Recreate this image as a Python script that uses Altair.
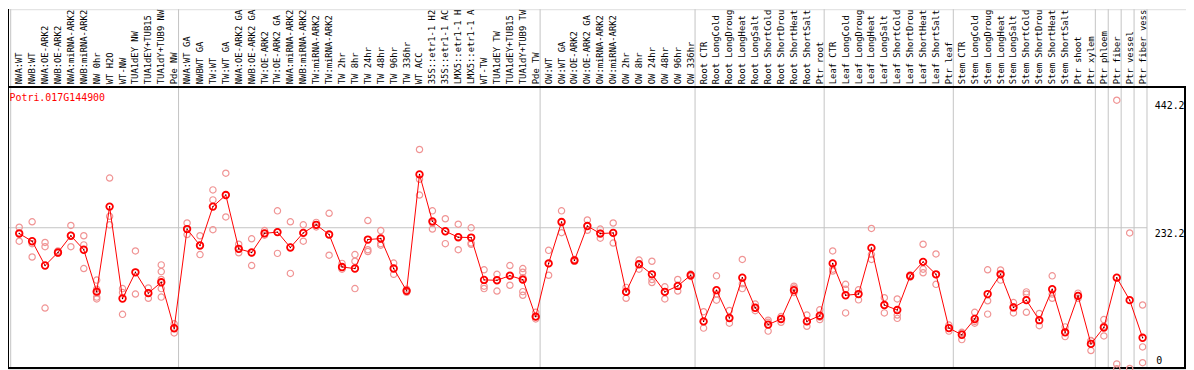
import altair as alt
import pandas as pd

# ---------------- data ----------------
labels = [
    "NWA:WT", "NWB:WT", "NWA:OE-ARK2", "NWB:OE-ARK2", "NWA:miRNA-ARK2", "NWB:miRNA-ARK2",
    "NW 0hr", "WT H2O", "WT-NW", "TUA1dEY NW", "TUA1dEY+TUB15", "TUA1dY+TUB9 NW", "Pde NW",
    "NWA:WT GA", "NWBWT GA", "TW:WT", "TW:WT GA", "NWA:OE-ARK2 GA", "NWB:OE-ARK2 GA",
    "TW:OE-ARK2", "TW:OE-ARK2 GA", "NWA:miRNA-ARK2", "NWB:miRNA-ARK2", "TW:miRNA-ARK2",
    "TW:miRNA-ARK2", "TW 2hr", "TW 8hr", "TW 24hr", "TW 48hr", "TW 96hr", "TW 336hr",
    "WT ACC", "35S::etr1-1 H2", "35S::etr1-1 AC", "LMX5::etr1-1 H", "LMX5::etr1-1 A",
    "WT-TW", "TUA1dEY TW", "TUA1dEY+TUB15", "TUA1dY+TUB9 TW", "Pde TW",
    "OW:WT", "OW:WT GA", "OW:OE-ARK2", "OW:OE-ARK2 GA", "OW:miRNA-ARK2", "OW:miRNA-ARK2",
    "OW 2hr", "OW 8hr", "OW 24hr", "OW 48hr", "OW 96hr", "OW 336hr",
    "Root CTR", "Root LongCold", "Root LongDroug", "Root LongHeat", "Root LongSalt",
    "Root ShortCold", "Root ShortDrou", "Root ShortHeat", "Root ShortSalt", "Ptr root",
    "Leaf CTR", "Leaf LongCold", "Leaf LongDroug", "Leaf LongHeat", "Leaf LongSalt",
    "Leaf ShortCold", "Leaf ShortDrou", "Leaf ShortHeat", "Leaf ShortSalt", "Ptr leaf",
    "Stem CTR", "Stem LongCold", "Stem LongDroug", "Stem LongHeat", "Stem LongSalt",
    "Stem ShortCold", "Stem ShortDrou", "Stem ShortHeat", "Stem ShortSalt", "Ptr shoot",
    "Ptr xylem", "Ptr phloem", "Ptr fiber", "Ptr vessel", "Ptr fiber vess",
]

group_sizes = [13, 28, 12, 10, 10, 11, 1, 1, 1, 1]

means = [
    222.6, 210, 170, 191.5, 219, 196, 127, 267, 115.7, 158.8, 124.5, 142.4, 66.7,
    230, 203, 267, 286, 197.5, 191.5, 223, 225, 199.7, 223.7, 237, 221, 167.5, 165,
    212.7, 214.4, 165, 128.3, 320, 242.7, 226.4, 216.6, 216, 146.3, 145.7, 153.3,
    146.8, 85.8,
    173.5, 241.6, 178.4, 235, 222.6, 223.7, 126.6, 172, 155.5, 126.6, 136.4, 154,
    78, 129.4, 83.6, 150, 100.5, 72.7, 82, 129.4, 78, 87.4,
    173.5, 121, 123, 199, 105, 96.7, 152.8, 176, 155.5, 67,
    56, 82, 123, 155.5, 101, 113, 80, 131, 60, 120, 41,
    68, 150, 113, 51,
]

replicates = [
    [233, 210, 224], [242, 206, 184], [208, 201, 100], [194, 191, 190],
    [236, 201, 220], [219, 204, 165], [146, 131, 125, 118, 115], [314, 251, 237],
    [132, 125.5, 89.6], [194, 159, 123], [133, 125, 116], [171, 160, 147, 132, 118],
    [74, 67, 59],
    [240, 221, 230], [219, 188, 203], [294.5, 278, 229], [322, 286, 250],
    [205, 191, 197], [214, 170, 191], [227.5, 220, 223], [260, 225, 190],
    [242, 157, 200], [237, 210, 224], [241, 233.5, 237], [256, 221, 187],
    [173.5, 164, 167], [188, 177, 132], [244, 196, 193], [227.5, 206, 203.5],
    [174, 155.5, 165], [131, 128, 126], [361, 312, 286], [260, 230, 240],
    [247, 206, 226], [238, 217, 196], [232, 207, 205], [163, 136, 132],
    [155.5, 146, 128], [170, 153, 137.5], [165, 159, 150, 127, 121], [93, 82, 86],
    [195, 154, 173], [260, 242, 224], [180, 178, 177], [245, 228, 235],
    [230, 215, 223], [240, 207, 224], [134, 116, 127], [179, 164, 173],
    [177, 147, 142], [135, 127, 115], [147, 136, 128], [156, 154, 152],
    [94, 78, 67], [153, 123, 113], [96, 84, 75], [180, 140, 132], [106.5, 100, 95.6],
    [80, 76.5, 62], [86, 82, 76.5], [136, 133, 125.5], [88.5, 78, 70], [97, 85, 81],
    [194, 164, 161], [139, 131, 92], [130, 123, 113.5], [231, 188, 180],
    [117, 105, 92], [115, 88.5, 83], [154.4, 153, 151], [205, 164, 158],
    [189, 155, 139], [72, 67, 62],
    [60, 59, 48], [93, 78, 75], [163, 112, 90], [162.6, 157, 146], [109, 102, 92],
    [126.6, 123, 93], [91, 80, 71], [153, 123, 116], [69, 60, 53], [124.5, 120, 116],
    [46.5, 46, 30],
    [81, 70, 54], [442.2, 8, 0], [223.6, 0.5], [105, 36, 10],
]

gene = "Potri.017G144900"
y_ticks = [0, 232.2, 442.2]

# ---------------- tables ----------------
mean_df = pd.DataFrame({"idx": range(len(labels)), "label": labels, "value": means})
rep_df = pd.DataFrame(
    [{"idx": i, "value": v} for i, reps in enumerate(replicates) for v in reps]
)
cum = [0]
for s in group_sizes:
    cum.append(cum[-1] + s)
bound_df = pd.DataFrame({"b": [c - 0.66 for c in cum]})

W, H = 1186, 362
PX = 13.0
x_lo = -11.3 / PX
x_hi = (W - 11.3) / PX
y_hi = 591.95

xs = alt.Scale(domain=[x_lo, x_hi], nice=False, zero=False)
ys = alt.Scale(domain=[0, y_hi], nice=False, zero=False)
MONO = "DejaVu Sans Mono"

base_m = alt.Chart(mean_df)

vgrid = alt.Chart(bound_df).mark_rule(color="#c4c4c4", strokeWidth=1).encode(
    x=alt.X("b:Q", scale=xs, axis=None), y=alt.value(0), y2=alt.value(H)
)

hgrid_df = pd.DataFrame({"v": [y_ticks[1]], "x0": [x_lo], "x1": [cum[-1] - 0.66]})
hgrid = alt.Chart(hgrid_df).mark_rule(color="#c4c4c4", strokeWidth=1).encode(
    x=alt.X("x0:Q", scale=xs, axis=None), x2="x1:Q",
    y=alt.Y("v:Q", scale=ys, axis=None),
)

frame_top = alt.Chart(mean_df).mark_rule(color="black", strokeWidth=1).encode(
    x=alt.value(0), x2=alt.value(W), y=alt.value(78)
)
frame_bottom = alt.Chart(mean_df).mark_rule(color="black", strokeWidth=1.5).encode(
    x=alt.value(0), x2=alt.value(W), y=alt.value(H - 0.5)
)
frame_left = alt.Chart(mean_df).mark_rule(color="black", strokeWidth=1).encode(
    x=alt.value(0.5), y=alt.value(0), y2=alt.value(H)
)
frame_right = alt.Chart(mean_df).mark_rule(color="black", strokeWidth=1.5).encode(
    x=alt.value(W - 0.75), y=alt.value(78), y2=alt.value(H)
)

reps_layer = alt.Chart(rep_df).mark_point(
    shape="circle", filled=False, color="#f09494", strokeWidth=1.2, size=40, opacity=1
).encode(
    x=alt.X("idx:Q", scale=xs, axis=None),
    y=alt.Y("value:Q", scale=ys, axis=None),
)

line = base_m.mark_line(color="#ff0000", strokeWidth=1).encode(
    x=alt.X("idx:Q", scale=xs, axis=None),
    y=alt.Y("value:Q", scale=ys, axis=None),
)

mean_pts = base_m.mark_point(
    shape="circle", filled=False, color="#ff0000", strokeWidth=1.8, size=44, opacity=1
).encode(
    x=alt.X("idx:Q", scale=xs, axis=None),
    y=alt.Y("value:Q", scale=ys, axis=None),
)

mean_dots = base_m.mark_point(
    shape="circle", filled=True, color="#300000", size=2, opacity=1
).encode(
    x=alt.X("idx:Q", scale=xs, axis=None),
    y=alt.Y("value:Q", scale=ys, axis=None),
)

cat_text = base_m.mark_text(
    angle=270, align="left", baseline="middle", font=MONO, fontSize=8.9, color="black"
).encode(
    x=alt.X("idx:Q", scale=xs, axis=None),
    y=alt.value(75.5),
    text="label:N",
)

title_df = pd.DataFrame({"t": [gene]})
title_text = alt.Chart(title_df).mark_text(
    align="left", baseline="middle", font=MONO, fontSize=10, color="#ff0000"
).encode(x=alt.value(1.5), y=alt.value(89), text="t:N")

tick_df = pd.DataFrame({"v": y_ticks[1:], "t": [str(v) for v in y_ticks[1:]]})
tick_text = alt.Chart(tick_df).mark_text(
    align="left", baseline="middle", font=MONO, fontSize=10, color="black", dy=6
).encode(
    x=alt.value(1154.5),
    y=alt.Y("v:Q", scale=ys, axis=None),
    text="t:N",
)
zero_df = pd.DataFrame({"v": [y_ticks[0]], "t": [str(y_ticks[0])]})
zero_text = alt.Chart(zero_df).mark_text(
    align="left", baseline="middle", font=MONO, fontSize=10, color="black", dy=-8
).encode(
    x=alt.value(1156),
    y=alt.Y("v:Q", scale=ys, axis=None),
    text="t:N",
)

chart = alt.layer(
    vgrid, hgrid, frame_top, frame_bottom, frame_left, frame_right,
    reps_layer, line, mean_pts, mean_dots, cat_text, title_text, tick_text, zero_text,
).properties(
    width=W, height=H,
    autosize=alt.AutoSizeParams(type="none"),
    padding=0,
).configure_view(stroke=None).configure(background="white")

chart.save("out.html", embed_options={"renderer": "svg", "actions": False})
